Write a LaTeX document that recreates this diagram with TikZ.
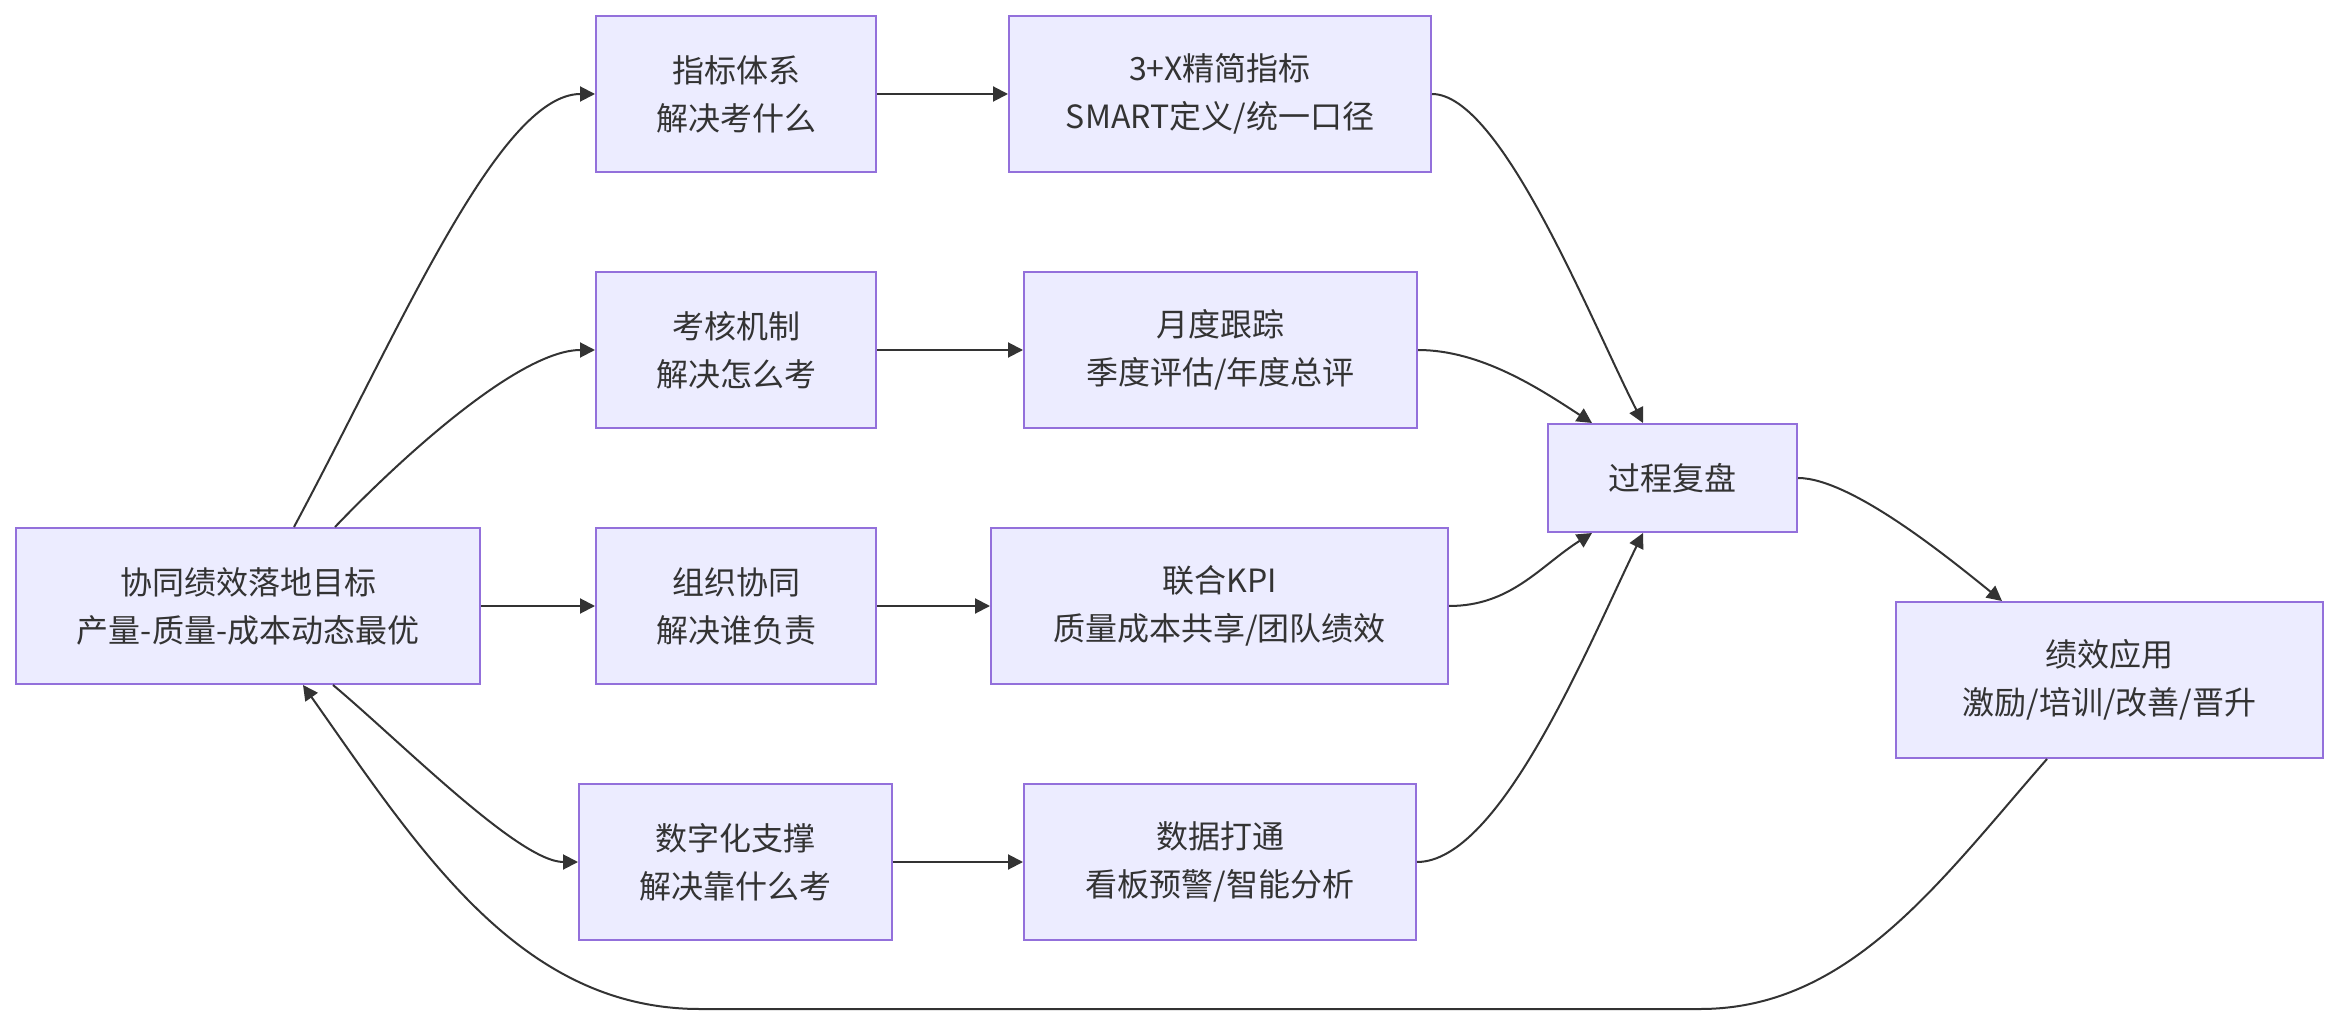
\documentclass[tikz,border=0pt]{standalone}
\usepackage{fontspec}
\setmainfont{Noto Sans CJK SC}
\usetikzlibrary{arrows.meta}
\definecolor{boxfill}{HTML}{ECECFF}
\definecolor{boxline}{HTML}{9370DB}
\definecolor{ink}{HTML}{333333}
\begin{document}
\begin{tikzpicture}[x=0.5pt,y=-0.5pt,
  box/.style={draw=boxline, fill=boxfill, line width=1pt, inner sep=0pt, align=center,
    text=ink, font=\fontsize{16pt}{24pt}\selectfont, minimum height=78pt},
  conn/.style={draw=ink, line width=1pt, -{Triangle[length=7.5pt,width=7.5pt]}}]
\useasboundingbox (0,0) rectangle (2338,1026);
\fill[white] (0,0) rectangle (2338,1026);
\node[box, minimum width=232pt] (A) at (248,606) {协同绩效落地目标\\产量-质量-成本动态最优};
\node[box, minimum width=140pt] (B1) at (736,94) {指标体系\\解决考什么};
\node[box, minimum width=140pt] (B2) at (736,350) {考核机制\\解决怎么考};
\node[box, minimum width=140pt] (B3) at (736,606) {组织协同\\解决谁负责};
\node[box, minimum width=156.5pt] (B4) at (735.5,862) {数字化支撑\\解决靠什么考};
\node[box, minimum width=211pt] (C1) at (1220,94) {3+X精简指标\\SMART定义/统一口径};
\node[box, minimum width=196.5pt] (C2) at (1220.5,350) {月度跟踪\\季度评估/年度总评};
\node[box, minimum width=228.5pt] (C3) at (1219.5,606) {联合KPI\\质量成本共享/团队绩效};
\node[box, minimum width=196pt] (C4) at (1220,862) {数据打通\\看板预警/智能分析};
\node[box, minimum width=124.5pt, minimum height=54pt] (D) at (1672.5,478) {过程复盘};
\node[box, minimum width=213.5pt] (E) at (2109.5,680) {绩效应用\\激励/培训/改善/晋升};
\coordinate (r) at (1700,1009);
\coordinate (l) at (700,1009);
\draw[conn] ([xshift=23pt]A.north) .. controls +(106,-198) and +(-96,0) .. (B1.west);
\draw[conn] ([xshift=43.5pt]A.north) .. controls +(65,-68) and +(-76,0) .. (B2.west);
\draw[conn] (A.east) -- (B3.west);
\draw[conn] ([xshift=42.5pt]A.south) .. controls +(67,56) and +(-59,0) .. (B4.west);
\draw[conn] (B1.east) -- (C1.west);
\draw[conn] (B2.east) -- (C2.west);
\draw[conn] (B3.east) -- (C3.west);
\draw[conn] (B4.east) -- (C4.west);
\draw[conn] (C1.east) .. controls +(69,0) and +(-53,-104) .. ([xshift=-14.75pt]D.north);
\draw[conn] (C2.east) .. controls +(63,0) and +(-52,-34) .. ([xshift=-40.25pt]D.north);
\draw[conn] (C3.east) .. controls +(62,0) and +(-52,33) .. ([xshift=-40.25pt]D.south);
\draw[conn] (C4.east) .. controls +(84,0) and +(-53,108) .. ([xshift=-14.75pt]D.south);
\draw[conn] (D.east) .. controls +(53,0) and +(-52,-42) .. ([xshift=-53.75pt]E.north);
\draw[conn] ([xshift=-31.25pt]E.south) .. controls +(-107,122) and +(150,0) .. (r) -- (l) .. controls +(-180,0) and +(117,166) .. ([xshift=27.5pt]A.south);
\end{tikzpicture}
\end{document}
